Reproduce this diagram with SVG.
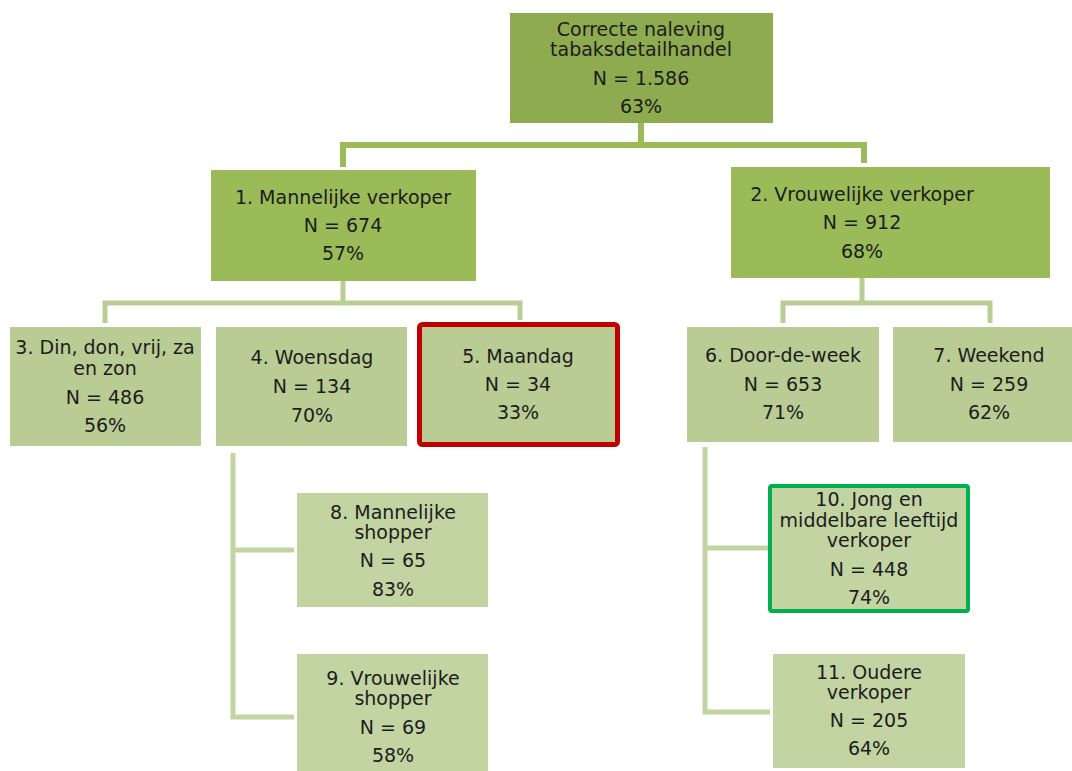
<svg xmlns="http://www.w3.org/2000/svg" width="1072" height="771" viewBox="0 0 1072 771">
<style>
text{font-family:"DejaVu Sans",Verdana,sans-serif;font-size:19px;fill:#1c1c1c;text-anchor:middle}
.l1{fill:#8EAB50}
.l2{fill:#9BBB59}
.l3{fill:#B8CC93}
.l4{fill:#C3D4A3}
.c1{fill:none;stroke:#9BBB59;stroke-width:6}
.c2{fill:none;stroke:#B9CD95;stroke-width:5}
.c3{fill:none;stroke:#C3D4A3;stroke-width:5}
</style>
<rect width="1072" height="771" fill="#fff"/>
<g id="connectors">
<path class="c1" d="M641,123 V145 M343,167 V145 H864 V163"/>
<path class="c2" d="M343,281 V303 M105,323 V303 H520 V320"/>
<path class="c2" d="M862,278 V303 M783,323 V303 H990 V323"/>
<path class="c3" d="M233,453 V717 H294 M233,550 H294"/>
<path class="c3" d="M705,447 V712 H770 M705,548 H770"/>
</g>
<g id="n0"><rect class="l1" x="510" y="13" width="263" height="110"/>
<text x="641" y="36">Correcte naleving</text><text x="641" y="56">tabaksdetailhandel</text><text x="641" y="85">N = 1.586</text><text x="641" y="113">63%</text></g>
<g id="n1"><rect class="l2" x="211" y="170" width="265" height="111"/>
<text x="343" y="204">1. Mannelijke verkoper</text><text x="343" y="232">N = 674</text><text x="343" y="260">57%</text></g>
<g id="n2"><rect class="l2" x="731" y="167" width="319" height="111"/>
<text x="862" y="201">2. Vrouwelijke verkoper</text><text x="862" y="229">N = 912</text><text x="862" y="258">68%</text></g>
<g id="n3"><rect class="l3" x="10" y="327" width="191" height="119"/>
<text x="105" y="354">3. Din, don, vrij, za</text><text x="105" y="375">en zon</text><text x="105" y="404">N = 486</text><text x="105" y="432">56%</text></g>
<g id="n4"><rect class="l3" x="216" y="327" width="191" height="119"/>
<text x="312" y="364">4. Woensdag</text><text x="312" y="393">N = 134</text><text x="312" y="422">70%</text></g>
<g id="n5"><rect class="l3" x="419.5" y="324.5" width="198" height="120" rx="3" stroke="#C00000" stroke-width="5"/>
<text x="518" y="363">5. Maandag</text><text x="518" y="391">N = 34</text><text x="518" y="419">33%</text></g>
<g id="n6"><rect class="l3" x="687" y="327" width="192" height="115"/>
<text x="783" y="362">6. Door-de-week</text><text x="783" y="391">N = 653</text><text x="783" y="419">71%</text></g>
<g id="n7"><rect class="l3" x="893" y="327" width="179" height="115"/>
<text x="989" y="362">7. Weekend</text><text x="989" y="391">N = 259</text><text x="989" y="419">62%</text></g>
<g id="n8"><rect class="l4" x="297" y="493" width="191" height="114"/>
<text x="393" y="519">8. Mannelijke</text><text x="393" y="539">shopper</text><text x="393" y="567">N = 65</text><text x="393" y="596">83%</text></g>
<g id="n9"><rect class="l4" x="297" y="654" width="191" height="117"/>
<text x="393" y="685">9. Vrouwelijke</text><text x="393" y="705">shopper</text><text x="393" y="734">N = 69</text><text x="393" y="762">58%</text></g>
<g id="n10"><rect class="l4" x="770" y="486" width="198" height="125" rx="2" stroke="#00B050" stroke-width="4"/>
<text x="869" y="506">10. Jong en</text><text x="869" y="527">middelbare leeftijd</text><text x="869" y="547">verkoper</text><text x="869" y="576">N = 448</text><text x="869" y="604">74%</text></g>
<g id="n11"><rect class="l4" x="773" y="654" width="192" height="114"/>
<text x="869" y="679">11. Oudere</text><text x="869" y="699">verkoper</text><text x="869" y="727">N = 205</text><text x="869" y="755">64%</text></g>
</svg>
